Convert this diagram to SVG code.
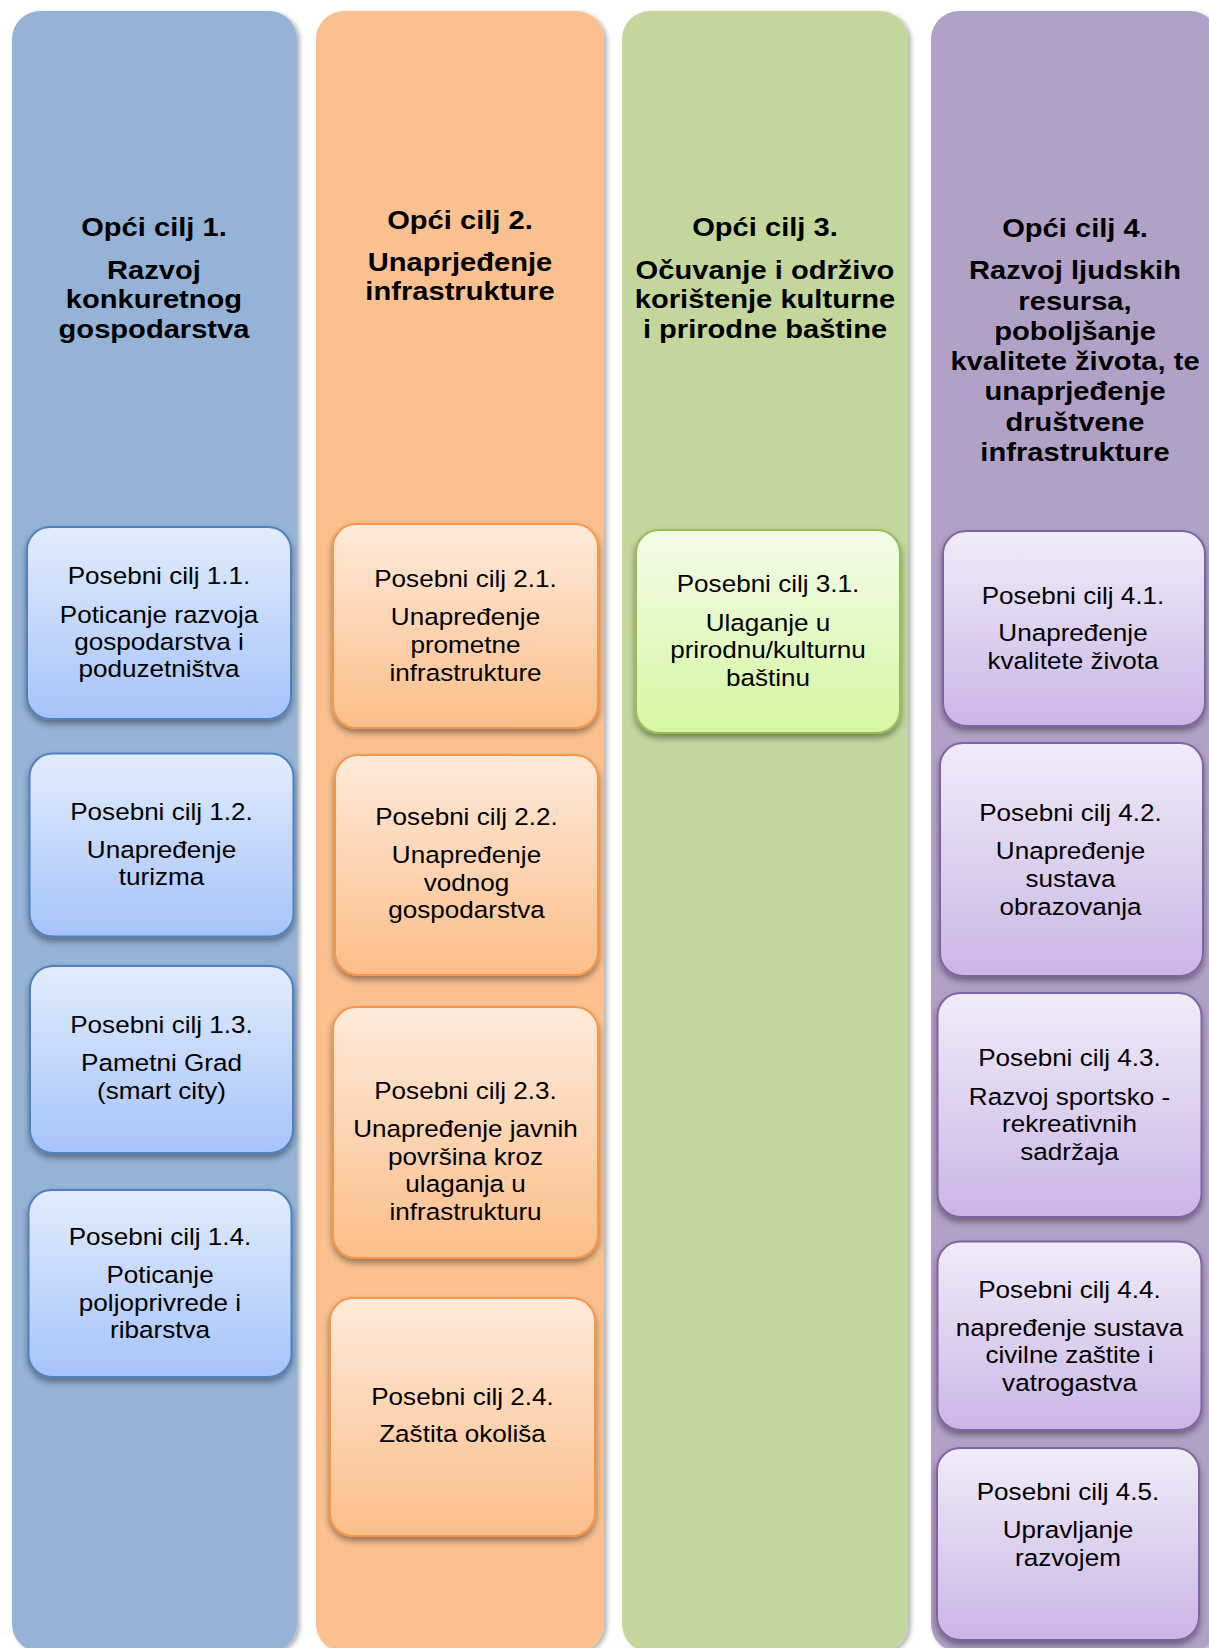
<svg xmlns="http://www.w3.org/2000/svg" width="1209" height="1648" viewBox="0 0 1209 1648">
<defs>
<style>
.h{font-family:"Liberation Sans",Arial,sans-serif;font-weight:bold;font-size:26px;fill:#000;text-anchor:middle}
.t{font-family:"Liberation Sans",Arial,sans-serif;font-size:23.5px;fill:#000;text-anchor:middle}
.box{stroke-width:2}
.bb{fill:url(#gb);stroke:#4F81BD}
.bo{fill:url(#go);stroke:#F79646}
.bg{fill:url(#gg);stroke:#9BBB59}
.bp{fill:url(#gp);stroke:#8064A2}
</style>
<linearGradient id="gb" x1="0" y1="0" x2="0" y2="1"><stop offset="0" stop-color="#E2ECFD"/><stop offset="1" stop-color="#A6C3F9"/></linearGradient>
<linearGradient id="go" x1="0" y1="0" x2="0" y2="1"><stop offset="0" stop-color="#FEEADB"/><stop offset="1" stop-color="#FBBE89"/></linearGradient>
<linearGradient id="gg" x1="0" y1="0" x2="0" y2="1"><stop offset="0" stop-color="#F4FCEA"/><stop offset="1" stop-color="#D4F6A1"/></linearGradient>
<linearGradient id="gp" x1="0" y1="0" x2="0" y2="1"><stop offset="0" stop-color="#F0ECF8"/><stop offset="1" stop-color="#CAB6E6"/></linearGradient>
<filter id="cs" x="-5%" y="-2%" width="110%" height="104%"><feDropShadow dx="3" dy="2" stdDeviation="2" flood-color="#000" flood-opacity="0.3"/></filter>
<filter id="bs" x="-5%" y="-5%" width="110%" height="115%"><feDropShadow dx="0" dy="4" stdDeviation="3" flood-color="#000" flood-opacity="0.4"/></filter>
</defs>
<rect width="1209" height="1648" fill="#FFFFFF"/>

<g id="col1">
<rect x="12" y="11" width="285" height="1641" rx="28" fill="#95B3D7" filter="url(#cs)"/>
<text class="h" transform="matrix(1.12 0 0 1 154 0)"><tspan x="0" y="236">Opći cilj 1.</tspan><tspan x="0" y="279">Razvoj</tspan><tspan x="0" y="308.5">konkuretnog</tspan><tspan x="0" y="338">gospodarstva</tspan></text>
</g>
<g id="col2">
<rect x="316" y="11" width="288" height="1641" rx="28" fill="#FAC090" filter="url(#cs)"/>
<text class="h" transform="matrix(1.12 0 0 1 460 0)"><tspan x="0" y="229.5">Opći cilj 2.</tspan><tspan x="0" y="271">Unaprjeđenje</tspan><tspan x="0" y="300.5">infrastrukture</tspan></text>
</g>
<g id="col3">
<rect x="622" y="11" width="286" height="1641" rx="28" fill="#C3D69B" filter="url(#cs)"/>
<text class="h" transform="matrix(1.12 0 0 1 765 0)"><tspan x="0" y="236">Opći cilj 3.</tspan><tspan x="0" y="279">Očuvanje i održivo</tspan><tspan x="0" y="308.5">korištenje kulturne</tspan><tspan x="0" y="338">i prirodne baštine</tspan></text>
</g>
<g id="col4">
<rect x="931" y="11" width="287" height="1641" rx="28" fill="#B2A1C7" filter="url(#cs)"/>
<text class="h" transform="matrix(1.12 0 0 1 1075 0)"><tspan x="0" y="237">Opći cilj 4.</tspan><tspan x="0" y="279.5">Razvoj ljudskih</tspan><tspan x="0" y="310">resursa,</tspan><tspan x="0" y="340">poboljšanje</tspan><tspan x="0" y="370.5">kvalitete života, te</tspan><tspan x="0" y="400.5">unaprjeđenje</tspan><tspan x="0" y="431">društvene</tspan><tspan x="0" y="461.5">infrastrukture</tspan></text>
</g>

<g id="pc11"><rect class="box bb" x="27" y="527" width="264" height="192" rx="23" filter="url(#bs)"/>
<text class="t" transform="matrix(1.11 0 0 1 159 0)"><tspan x="0" y="584.5">Posebni cilj 1.1.</tspan><tspan x="0" y="623">Poticanje razvoja</tspan><tspan x="0" y="650">gospodarstva i</tspan><tspan x="0" y="677">poduzetništva</tspan></text></g>
<g id="pc12"><rect class="box bb" x="29.5" y="753.5" width="264" height="183" rx="23" filter="url(#bs)"/>
<text class="t" transform="matrix(1.11 0 0 1 161.5 0)"><tspan x="0" y="820">Posebni cilj 1.2.</tspan><tspan x="0" y="858">Unapređenje</tspan><tspan x="0" y="885.5">turizma</tspan></text></g>
<g id="pc13"><rect class="box bb" x="30" y="966" width="263" height="187" rx="23" filter="url(#bs)"/>
<text class="t" transform="matrix(1.11 0 0 1 161.5 0)"><tspan x="0" y="1033">Posebni cilj 1.3.</tspan><tspan x="0" y="1071.5">Pametni Grad</tspan><tspan x="0" y="1099">(smart city)</tspan></text></g>
<g id="pc14"><rect class="box bb" x="28.5" y="1190" width="263" height="187" rx="23" filter="url(#bs)"/>
<text class="t" transform="matrix(1.11 0 0 1 160 0)"><tspan x="0" y="1245">Posebni cilj 1.4.</tspan><tspan x="0" y="1283">Poticanje</tspan><tspan x="0" y="1311">poljoprivrede i</tspan><tspan x="0" y="1338.5">ribarstva</tspan></text></g>

<g id="pc21"><rect class="box bo" x="333" y="524" width="265" height="204" rx="23" filter="url(#bs)"/>
<text class="t" transform="matrix(1.11 0 0 1 465.5 0)"><tspan x="0" y="587">Posebni cilj 2.1.</tspan><tspan x="0" y="625.5">Unapređenje</tspan><tspan x="0" y="653">prometne</tspan><tspan x="0" y="681">infrastrukture</tspan></text></g>
<g id="pc22"><rect class="box bo" x="335" y="755" width="263" height="220" rx="23" filter="url(#bs)"/>
<text class="t" transform="matrix(1.11 0 0 1 466.5 0)"><tspan x="0" y="825">Posebni cilj 2.2.</tspan><tspan x="0" y="863">Unapređenje</tspan><tspan x="0" y="891">vodnog</tspan><tspan x="0" y="918.5">gospodarstva</tspan></text></g>
<g id="pc23"><rect class="box bo" x="333" y="1007" width="265" height="251" rx="23" filter="url(#bs)"/>
<text class="t" transform="matrix(1.11 0 0 1 465.5 0)"><tspan x="0" y="1099">Posebni cilj 2.3.</tspan><tspan x="0" y="1137">Unapređenje javnih</tspan><tspan x="0" y="1165">površina kroz</tspan><tspan x="0" y="1192">ulaganja u</tspan><tspan x="0" y="1220">infrastrukturu</tspan></text></g>
<g id="pc24"><rect class="box bo" x="330" y="1298" width="265" height="238" rx="23" filter="url(#bs)"/>
<text class="t" transform="matrix(1.11 0 0 1 462.5 0)"><tspan x="0" y="1405">Posebni cilj 2.4.</tspan><tspan x="0" y="1442.5">Zaštita okoliša</tspan></text></g>

<g id="pc31"><rect class="box bg" x="636" y="530" width="264" height="203" rx="23" filter="url(#bs)"/>
<text class="t" transform="matrix(1.11 0 0 1 768 0)"><tspan x="0" y="592.5">Posebni cilj 3.1.</tspan><tspan x="0" y="631">Ulaganje u</tspan><tspan x="0" y="658.5">prirodnu/kulturnu</tspan><tspan x="0" y="686">baštinu</tspan></text></g>

<g id="pc41"><rect class="box bp" x="943" y="531" width="262" height="195" rx="23" filter="url(#bs)"/>
<text class="t" transform="matrix(1.11 0 0 1 1073 0)"><tspan x="0" y="604">Posebni cilj 4.1.</tspan><tspan x="0" y="641.5">Unapređenje</tspan><tspan x="0" y="669.5">kvalitete života</tspan></text></g>
<g id="pc42"><rect class="box bp" x="940" y="743" width="263" height="233" rx="23" filter="url(#bs)"/>
<text class="t" transform="matrix(1.11 0 0 1 1070.5 0)"><tspan x="0" y="821.5">Posebni cilj 4.2.</tspan><tspan x="0" y="859">Unapređenje</tspan><tspan x="0" y="887.5">sustava</tspan><tspan x="0" y="915">obrazovanja</tspan></text></g>
<g id="pc43"><rect class="box bp" x="937.5" y="993" width="264" height="224" rx="23" filter="url(#bs)"/>
<text class="t" transform="matrix(1.11 0 0 1 1069.5 0)"><tspan x="0" y="1066">Posebni cilj 4.3.</tspan><tspan x="0" y="1105">Razvoj sportsko -</tspan><tspan x="0" y="1132.5">rekreativnih</tspan><tspan x="0" y="1160">sadržaja</tspan></text></g>
<g id="pc44"><rect class="box bp" x="937.5" y="1241.5" width="264" height="188.5" rx="23" filter="url(#bs)"/>
<text class="t" transform="matrix(1.11 0 0 1 1069.5 0)"><tspan x="0" y="1298.5">Posebni cilj 4.4.</tspan><tspan x="0" y="1336.5">napređenje sustava</tspan><tspan x="0" y="1363.5">civilne zaštite i</tspan><tspan x="0" y="1391">vatrogastva</tspan></text></g>
<g id="pc45"><rect class="box bp" x="937" y="1448" width="262" height="192" rx="23" filter="url(#bs)"/>
<text class="t" transform="matrix(1.11 0 0 1 1068 0)"><tspan x="0" y="1500.5">Posebni cilj 4.5.</tspan><tspan x="0" y="1538.5">Upravljanje</tspan><tspan x="0" y="1566">razvojem</tspan></text></g>
</svg>
